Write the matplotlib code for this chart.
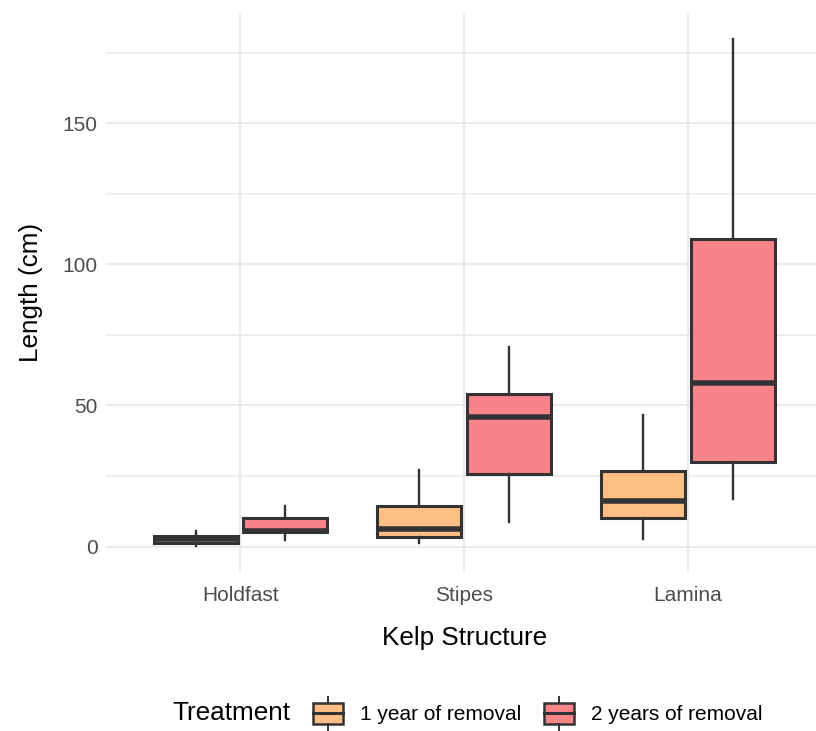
import numpy as np
import matplotlib
matplotlib.use("Agg")
import matplotlib.pyplot as plt
from matplotlib.patches import Rectangle, Patch
from matplotlib.lines import Line2D
from matplotlib.legend_handler import HandlerBase

plt.rcParams['font.family'] = ['Liberation Sans', 'DejaVu Sans']

estruturas = ["Holdfast", "Stipes", "Lamina"]
tratamentos = ["1 year of removal", "2 years of removal"]
cores = ["#FDBF85", "#F8838A"]

# resumo das caixas (cm): bigode inferior, Q1, mediana, Q3, bigode superior
min_1ano = [0.3, 1.2, 2.8]
q1_1ano = [1.4, 3.3, 10.3]
med_1ano = [2.6, 6.2, 16.1]
q3_1ano = [3.8, 14.3, 26.7]
max_1ano = [5.5, 27.2, 46.7]

min_2anos = [2.5, 8.8, 17.0]
q1_2anos = [5.0, 25.6, 29.9]
med_2anos = [5.6, 45.8, 57.8]
q3_2anos = [10.0, 54.0, 109.0]
max_2anos = [14.5, 70.8, 180.0]

y_ticks = [0, 50, 100, 150]

resumos = [
    (min_1ano, q1_1ano, med_1ano, q3_1ano, max_1ano),
    (min_2anos, q1_2anos, med_2anos, q3_2anos, max_2anos),
]

fig = plt.figure(figsize=(8.16, 7.31), dpi=100)
# painel passa um pouco da borda direita
ax = fig.add_axes([0.13, 0.2175, 0.8775, 0.7645])

escuro = "#333333"
largura = 0.375
deslocamentos = [-0.2, 0.2]

for t, (lo, q1, med, q3, hi) in enumerate(resumos):
    stats = []
    for i in range(len(estruturas)):
        stats.append(dict(whislo=lo[i], q1=q1[i], med=med[i], q3=q3[i],
                          whishi=hi[i], fliers=[]))
    pos = np.arange(1, len(estruturas) + 1) + deslocamentos[t]
    ax.bxp(stats, positions=pos, widths=largura, patch_artist=True,
           showcaps=False, showfliers=False,
           boxprops=dict(facecolor=cores[t], edgecolor=escuro, linewidth=2.2),
           medianprops=dict(color=escuro, linewidth=4, solid_capstyle='butt'),
           whiskerprops=dict(color=escuro, linewidth=1.7))

ax.set_xlim(0.4, 3.6)
ax.set_ylim(-9, 189)
ax.set_xticks([1, 2, 3])
ax.set_xticklabels(estruturas)
ax.set_yticks(y_ticks)
ax.set_yticks([25, 75, 125, 175], minor=True)

ax.grid(True, which='major', color='#EBEBEB', linewidth=1.6)
ax.grid(True, which='minor', axis='y', color='#EBEBEB', linewidth=1.2)
ax.set_axisbelow(True)
for s in ax.spines.values():
    s.set_visible(False)
ax.tick_params(axis='y', length=0, labelsize=15, labelcolor='#4D4D4D', pad=6)
ax.tick_params(axis='x', length=0, labelsize=15, labelcolor='#4D4D4D', pad=10)
ax.tick_params(which='minor', length=0)

ax.set_xlabel("Kelp Structure", fontsize=18.8, labelpad=15)
ax.set_ylabel("Length (cm)", fontsize=18.8, labelpad=14)


class ChaveCaixa(HandlerBase):
    # chave da legenda: mini caixa com mediana e bigodes
    def create_artists(self, legend, orig_handle, xdescent, ydescent,
                       width, height, fontsize, trans):
        x0, y0 = -xdescent, -ydescent
        cx = x0 + width / 2
        caixa = Rectangle((x0 + 1, y0), width - 2, height,
                          facecolor=orig_handle.get_facecolor(),
                          edgecolor=escuro, linewidth=1.8, transform=trans)
        meio = Line2D([x0 + 1, x0 + width - 1], [y0 + height / 2] * 2,
                      color=escuro, linewidth=2.2, transform=trans)
        cima = Line2D([cx, cx], [y0 + height, y0 + height * 1.28],
                      color=escuro, linewidth=1.4, transform=trans)
        baixo = Line2D([cx, cx], [y0 - height * 0.28, y0],
                       color=escuro, linewidth=1.4, transform=trans)
        return [caixa, meio, cima, baixo]


handles = [Patch(facecolor=c) for c in cores]
fig.legend(handles, tratamentos, ncol=2, loc='center',
           bbox_to_anchor=(0.658, 0.024), frameon=False, fontsize=15,
           handler_map={Patch: ChaveCaixa()}, handlelength=1.6,
           handleheight=1.2, handletextpad=0.75, columnspacing=1.0)
fig.text(0.211, 0.024, "Treatment", fontsize=18.8, ha='left', va='center')

fig.savefig("out.png", dpi=100, facecolor='white')
